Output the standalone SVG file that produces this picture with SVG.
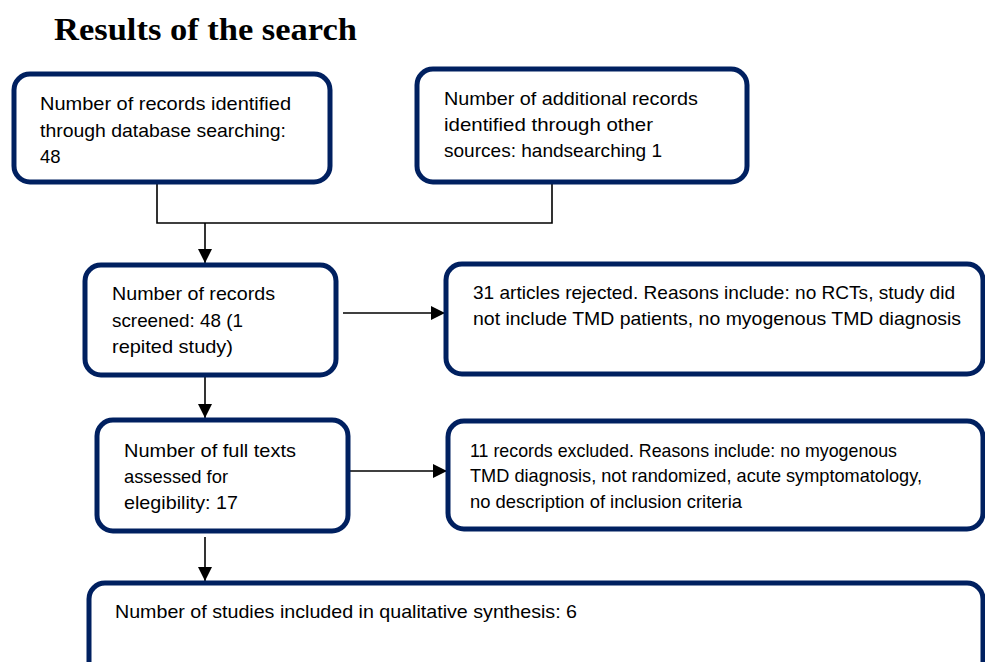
<svg xmlns="http://www.w3.org/2000/svg" width="985" height="662" viewBox="0 0 985 662">
<style>
.box{fill:#fff;stroke:#002060;stroke-width:5}
.t{font-family:"Liberation Sans",Arial,sans-serif;font-size:18.5px;fill:#000}
.s{font-size:17.8px}
.title{font-family:"Liberation Serif","Times New Roman",serif;font-size:32px;font-weight:bold;fill:#000}
.c{fill:none;stroke:#000;stroke-width:1.6}
</style>
<defs>
<marker id="ah2" viewBox="0 0 10 10" refX="10" refY="5" markerWidth="14" markerHeight="14" markerUnits="userSpaceOnUse" orient="auto">
<path d="M0,0 L10,5 L0,10 Z" fill="#000"/>
</marker>
</defs>
<text class="title" x="54" y="40" textLength="303" lengthAdjust="spacingAndGlyphs">Results of the search</text>
<g id="connectors">
<polyline class="c" points="157,183 157,223 552,223 552,183"/>
<line class="c" x1="205" y1="223" x2="205" y2="263" marker-end="url(#ah2)"/>
<line class="c" x1="343" y1="313" x2="445" y2="313" marker-end="url(#ah2)"/>
<line class="c" x1="205" y1="376" x2="205" y2="418" marker-end="url(#ah2)"/>
<line class="c" x1="350" y1="471" x2="447" y2="471" marker-end="url(#ah2)"/>
<line class="c" x1="205" y1="537" x2="205" y2="581" marker-end="url(#ah2)"/>
</g>
<g id="n1">
<rect class="box" x="14" y="74" width="316" height="108" rx="16"/>
<text class="t" x="40" y="110" textLength="251" lengthAdjust="spacingAndGlyphs">Number of records identified</text>
<text class="t" x="40" y="137" textLength="246" lengthAdjust="spacingAndGlyphs">through database searching:</text>
<text class="t" x="40" y="163">48</text>
</g>
<g id="n2">
<rect class="box" x="417" y="69" width="330" height="113" rx="16"/>
<text class="t" x="444" y="105" textLength="254" lengthAdjust="spacingAndGlyphs">Number of additional records</text>
<text class="t" x="444" y="131" textLength="209" lengthAdjust="spacingAndGlyphs">identified through other</text>
<text class="t" x="444" y="157" textLength="218" lengthAdjust="spacingAndGlyphs">sources: handsearching 1</text>
</g>
<g id="n3">
<rect class="box" x="85" y="265" width="251" height="110" rx="16"/>
<text class="t" x="112" y="300" textLength="163" lengthAdjust="spacingAndGlyphs">Number of records</text>
<text class="t" x="112" y="327" textLength="131" lengthAdjust="spacingAndGlyphs">screened: 48 (1</text>
<text class="t" x="112" y="353" textLength="121" lengthAdjust="spacingAndGlyphs">repited study)</text>
</g>
<g id="n4">
<rect class="box" x="446" y="264" width="537" height="110" rx="16"/>
<text class="t" x="473" y="299" textLength="482" lengthAdjust="spacingAndGlyphs">31 articles rejected. Reasons include: no RCTs, study did</text>
<text class="t" x="473" y="325" textLength="488" lengthAdjust="spacingAndGlyphs">not include TMD patients, no myogenous TMD diagnosis</text>
</g>
<g id="n5">
<rect class="box" x="97" y="420" width="251" height="111" rx="16"/>
<text class="t" x="124" y="457" textLength="172" lengthAdjust="spacingAndGlyphs">Number of full texts</text>
<text class="t" x="124" y="483" textLength="104" lengthAdjust="spacingAndGlyphs">assessed for</text>
<text class="t" x="124" y="509" textLength="114" lengthAdjust="spacingAndGlyphs">elegibility: 17</text>
</g>
<g id="n6">
<rect class="box" x="448" y="421" width="535" height="108" rx="16"/>
<text class="t s" x="470" y="457" textLength="427" lengthAdjust="spacingAndGlyphs">11 records excluded. Reasons include: no myogenous</text>
<text class="t s" x="470" y="482" textLength="452" lengthAdjust="spacingAndGlyphs">TMD diagnosis, not randomized, acute symptomatology,</text>
<text class="t s" x="470" y="508" textLength="272" lengthAdjust="spacingAndGlyphs">no description of inclusion criteria</text>
</g>
<g id="n7">
<rect class="box" x="89" y="583" width="894" height="100" rx="16"/>
<text class="t" x="115" y="618" textLength="462" lengthAdjust="spacingAndGlyphs">Number of studies included in qualitative synthesis: 6</text>
</g>
</svg>
